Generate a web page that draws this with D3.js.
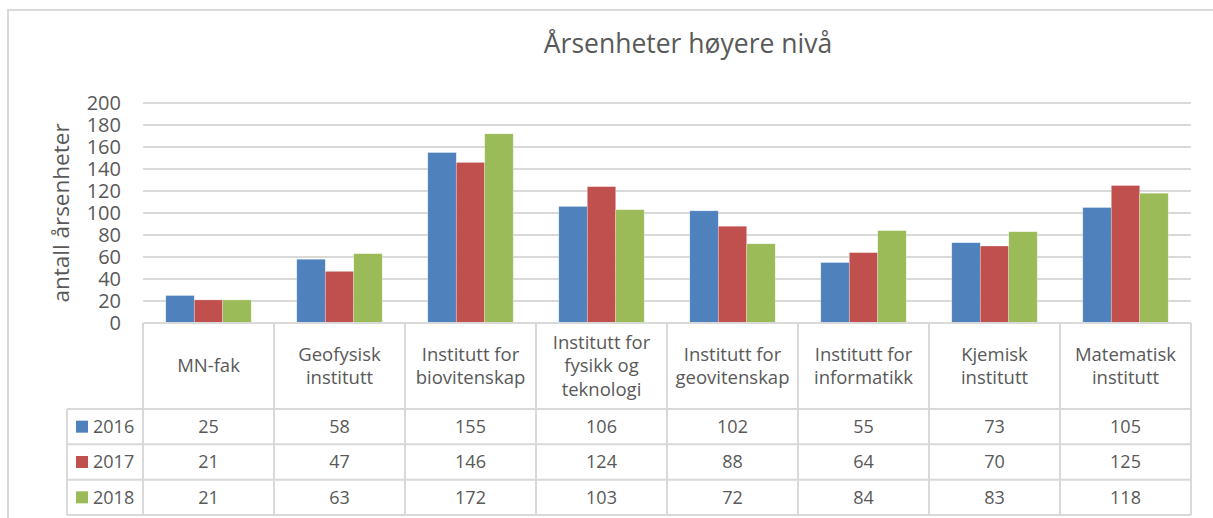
<!doctype html>
<html>
<head>
<meta charset="utf-8">
<script src="https://d3js.org/d3.v7.min.js"></script>
<style>
body { margin: 0; background: #fff; }
text { font-family: "Open Sans", sans-serif; fill: #595959; }
</style>
</head>
<body>
<svg width="1213" height="518"></svg>
<script>
var categories = ["MN-fak", "Geofysisk institutt", "Institutt for biovitenskap",
    "Institutt for fysikk og teknologi", "Institutt for geovitenskap",
    "Institutt for informatikk", "Kjemisk institutt", "Matematisk institutt"];
var labelLines = [["MN-fak"], ["Geofysisk", "institutt"], ["Institutt for", "biovitenskap"],
    ["Institutt for", "fysikk og", "teknologi"], ["Institutt for", "geovitenskap"],
    ["Institutt for", "informatikk"], ["Kjemisk", "institutt"], ["Matematisk", "institutt"]];
var years = ["2016", "2017", "2018"];
var v2016 = [25, 58, 155, 106, 102, 55, 73, 105];
var v2017 = [21, 47, 146, 124, 88, 64, 70, 125];
var v2018 = [21, 63, 172, 103, 72, 84, 83, 118];
var yTicks = [0, 20, 40, 60, 80, 100, 120, 140, 160, 180, 200];
var colors = ["#4F81BD", "#C0504D", "#9BBB59"];

var series = [v2016, v2017, v2018];
var grid = "#d9d9d9";

var svg = d3.select("svg");

// outer chart frame
svg.append("rect")
    .attr("x", 8).attr("y", 10)
    .attr("width", 1230).attr("height", 530)
    .attr("fill", "none").attr("stroke", grid).attr("stroke-width", 2);

// title
svg.append("text")
    .attr("x", 688).attr("y", 53)
    .attr("text-anchor", "middle")
    .style("font-size", "26.5px")
    .text("Årsenheter høyere nivå");

var x0 = d3.scaleBand().domain(categories).range([143, 1191]);
var gap = x0.bandwidth() * 1.6 / 4.6 / 2;   // Excel gap width 160%
var x1 = d3.scaleBand().domain(years).range([gap, x0.bandwidth() - gap]);
var y = d3.scaleLinear().domain([0, 200]).range([323, 103]);

// gridlines
svg.append("g").selectAll("line")
    .data(yTicks.filter(d => d > 0))
    .join("line")
    .attr("x1", 143).attr("x2", 1191)
    .attr("y1", d => y(d)).attr("y2", d => y(d))
    .attr("stroke", grid).attr("stroke-width", 2);

// y axis labels
var yAxis = svg.append("g")
    .attr("transform", "translate(121,0)")
    .call(d3.axisLeft(y).tickValues(yTicks).tickSize(0).tickPadding(0));
yAxis.select(".domain").remove();
yAxis.selectAll("text")
    .style("font-size", "20px")
    .style("font-family", "'Open Sans', sans-serif")
    .attr("fill", "#595959");

svg.append("text")
    .attr("text-anchor", "middle")
    .attr("transform", "translate(69,213) rotate(-90)")
    .style("font-size", "22.5px")
    .text("antall årsenheter");

// bars
var groups = svg.append("g").selectAll("g")
    .data(categories)
    .join("g")
    .attr("transform", d => "translate(" + x0(d) + ",0)");

groups.selectAll("rect")
    .data((d, i) => years.map((yr, j) => ({ yr: yr, v: series[j][i], j: j })))
    .join("rect")
    .attr("x", d => x1(d.yr))
    .attr("width", x1.bandwidth())
    .attr("y", d => y(d.v))
    .attr("height", d => y(0) - y(d.v))
    .attr("fill", d => colors[d.j])
    .attr("stroke", "#ffffff").attr("stroke-opacity", 0.5).attr("stroke-width", 0.6);

// data table
var rowY = d3.scaleBand().domain(years).range([409, 515]);
var headTop = 323, headBottom = 409, legendLeft = 67;
var tbl = svg.append("g");

tbl.append("line").attr("x1", 143).attr("x2", 1191)
    .attr("y1", headTop).attr("y2", headTop)
    .attr("stroke", grid).attr("stroke-width", 2);
tbl.selectAll(".hrow")
    .data([409].concat(years.map(d => rowY(d) + rowY.bandwidth())))
    .join("line")
    .attr("x1", legendLeft).attr("x2", 1191)
    .attr("y1", d => d).attr("y2", d => d)
    .attr("stroke", grid).attr("stroke-width", 2);
tbl.selectAll(".vcol")
    .data(categories.map(c => x0(c)).concat([1191]))
    .join("line")
    .attr("x1", d => d).attr("x2", d => d)
    .attr("y1", headTop).attr("y2", 515)
    .attr("stroke", grid).attr("stroke-width", 2);
tbl.append("line").attr("x1", legendLeft).attr("x2", legendLeft)
    .attr("y1", headBottom).attr("y2", 515)
    .attr("stroke", grid).attr("stroke-width", 2);

// header labels
var lh = 23.5;
categories.forEach(function (c, i) {
    var lines = labelLines[i];
    var cx = x0(c) + x0.bandwidth() / 2;
    var cy = (headTop + headBottom) / 2;
    var t = tbl.append("text")
        .attr("text-anchor", "middle")
        .style("font-size", "18.5px");
    lines.forEach(function (ln, k) {
        t.append("tspan")
            .attr("x", cx)
            .attr("y", cy + (k - (lines.length - 1) / 2) * lh)
            .attr("dy", "0.35em")
            .text(ln);
    });
});

// legend keys + values
years.forEach(function (yr, j) {
    var cy = rowY(yr) + rowY.bandwidth() / 2;
    tbl.append("rect")
        .attr("x", 76).attr("y", cy - 6)
        .attr("width", 12).attr("height", 12)
        .attr("fill", colors[j]);
    tbl.append("text")
        .attr("x", 93).attr("y", cy).attr("dy", "0.35em")
        .style("font-size", "18px")
        .text(yr);
    categories.forEach(function (c, i) {
        tbl.append("text")
            .attr("x", x0(c) + x0.bandwidth() / 2)
            .attr("y", cy).attr("dy", "0.35em")
            .attr("text-anchor", "middle")
            .style("font-size", "18px")
            .text(series[j][i]);
    });
});
</script>
</body>
</html>
